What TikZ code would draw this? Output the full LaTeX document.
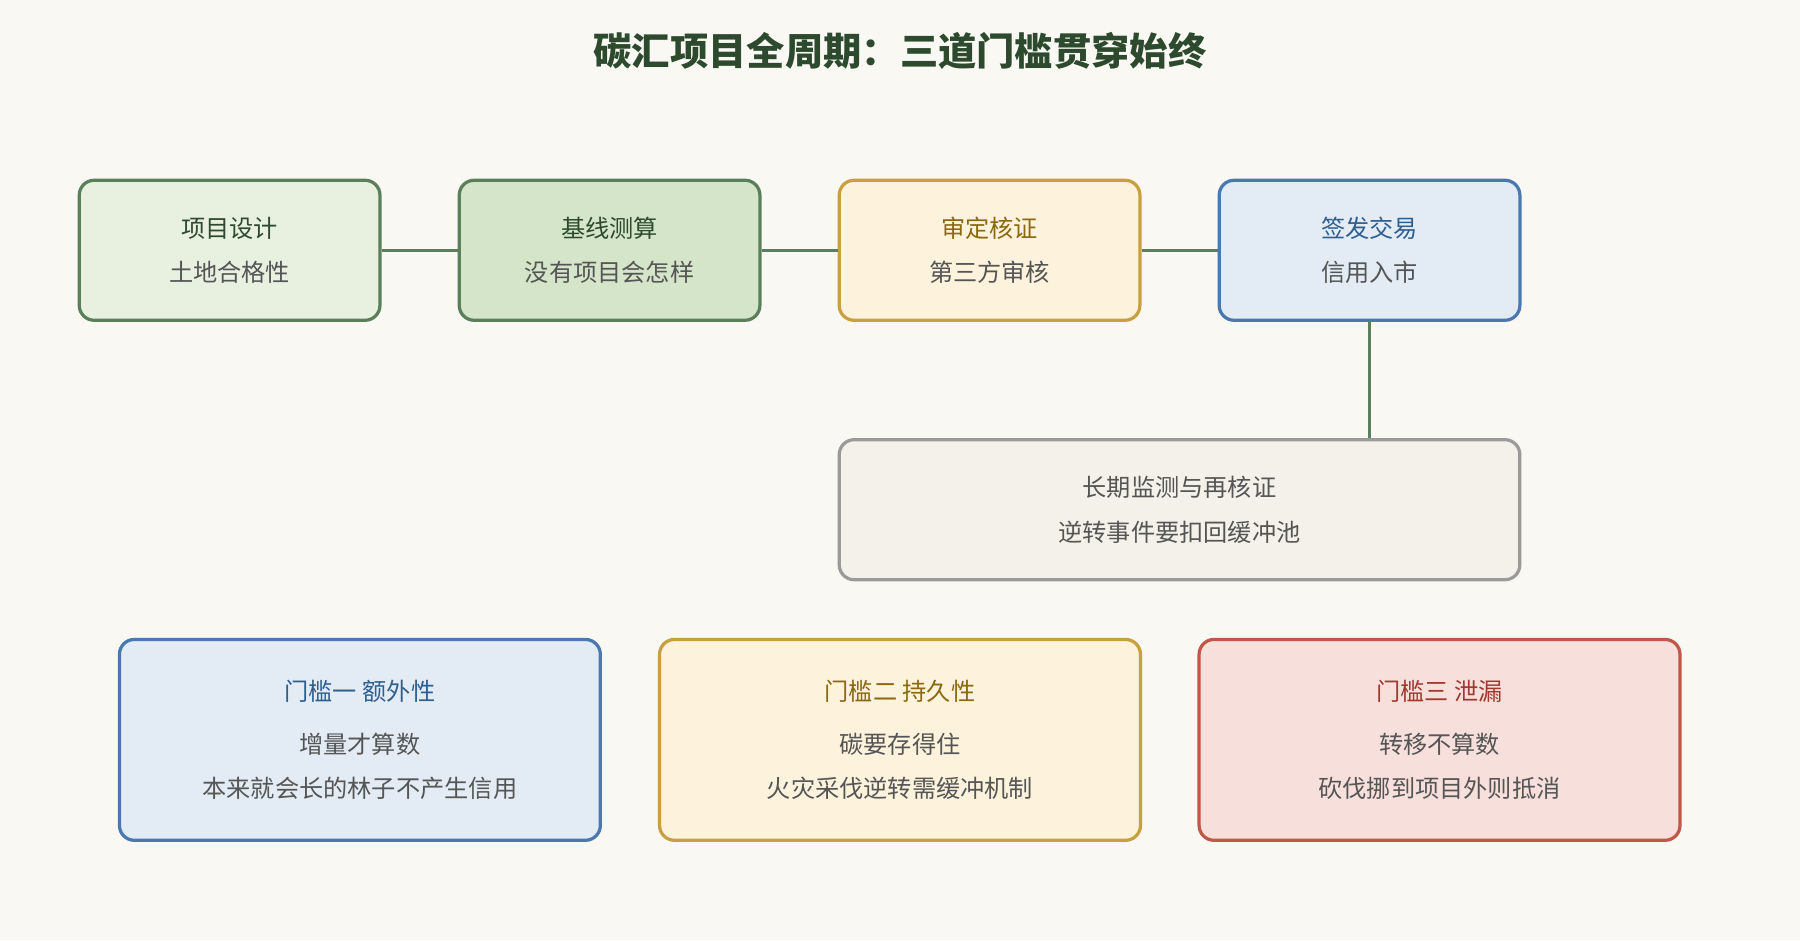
\documentclass[tikz,border=0pt]{standalone}
\usepackage{fontspec}
\setmainfont{Noto Sans CJK SC}
\definecolor{bgcol}{HTML}{F9F8F3}
\definecolor{grnline}{HTML}{5B7F5B}
\definecolor{grnfill}{HTML}{E8F0E0}
\definecolor{grnfillb}{HTML}{D4E5C9}
\definecolor{grntext}{HTML}{2E4A2E}
\definecolor{ylwline}{HTML}{C9A040}
\definecolor{ylwfill}{HTML}{FDF2DC}
\definecolor{ylwtext}{HTML}{8A6A10}
\definecolor{bluline}{HTML}{4A78B0}
\definecolor{blufill}{HTML}{E3ECF5}
\definecolor{blutext}{HTML}{2F5F8F}
\definecolor{grayline}{HTML}{9A9A9A}
\definecolor{grayfill}{HTML}{F3F1EA}
\definecolor{redline}{HTML}{C0584A}
\definecolor{redfill}{HTML}{F7E0DC}
\definecolor{redtext}{HTML}{A03A30}
\definecolor{subtext}{HTML}{555555}
\tikzset{
  stage/.style={rectangle, draw, line width=1.6pt, rounded corners=0.26cm, minimum width=5.24cm, minimum height=2.44cm, align=center, text=subtext, font=\fontsize{12}{22}\selectfont},
  gate/.style={stage, minimum width=8.38cm, minimum height=3.5cm},
  link/.style={draw=grnline, line width=1.6pt}
}
\begin{document}
\begin{tikzpicture}[x=0.02cm, y=-0.02cm]
  \fill[bgcol] (0,0) rectangle (1568,819);
  \node[font=\fontsize{19}{22}\selectfont\bfseries, text=grntext] (title) at (784,44) {碳汇项目全周期：三道门槛贯穿始终};

  \node[stage, draw=grnline, fill=grnfill] (design) at (200,218) {\textcolor{grntext}{项目设计}\\土地合格性};
  \node[stage, draw=grnline, fill=grnfillb] (baseline) at (531,218) {\textcolor{grntext}{基线测算}\\没有项目会怎样};
  \node[stage, draw=ylwline, fill=ylwfill] (verify) at (862,218) {\textcolor{ylwtext}{审定核证}\\第三方审核};
  \node[stage, draw=bluline, fill=blufill] (issue) at (1193,218) {\textcolor{blutext}{签发交易}\\信用入市};
  \node[stage, draw=grayline, fill=grayfill, minimum width=11.86cm] (monitor) at (1027.5,444) {长期监测与再核证\\逆转事件要扣回缓冲池};

  \node[gate, draw=bluline, fill=blufill] (gate1) at (313.5,644.5) {\textcolor{blutext}{门槛一 额外性}\\[4pt]增量才算数\\本来就会长的林子不产生信用};
  \node[gate, draw=ylwline, fill=ylwfill] (gate2) at (784,644.5) {\textcolor{ylwtext}{门槛二 持久性}\\[4pt]碳要存得住\\火灾采伐逆转需缓冲机制};
  \node[gate, draw=redline, fill=redfill] (gate3) at (1254,644.5) {\textcolor{redtext}{门槛三 泄漏}\\[4pt]转移不算数\\砍伐挪到项目外则抵消};

  \path[link] (design) -- (baseline);
  \path[link] (baseline) -- (verify);
  \path[link] (verify) -- (issue);
  \path[link] (issue) -- (issue |- monitor.north);
\end{tikzpicture}
\end{document}
